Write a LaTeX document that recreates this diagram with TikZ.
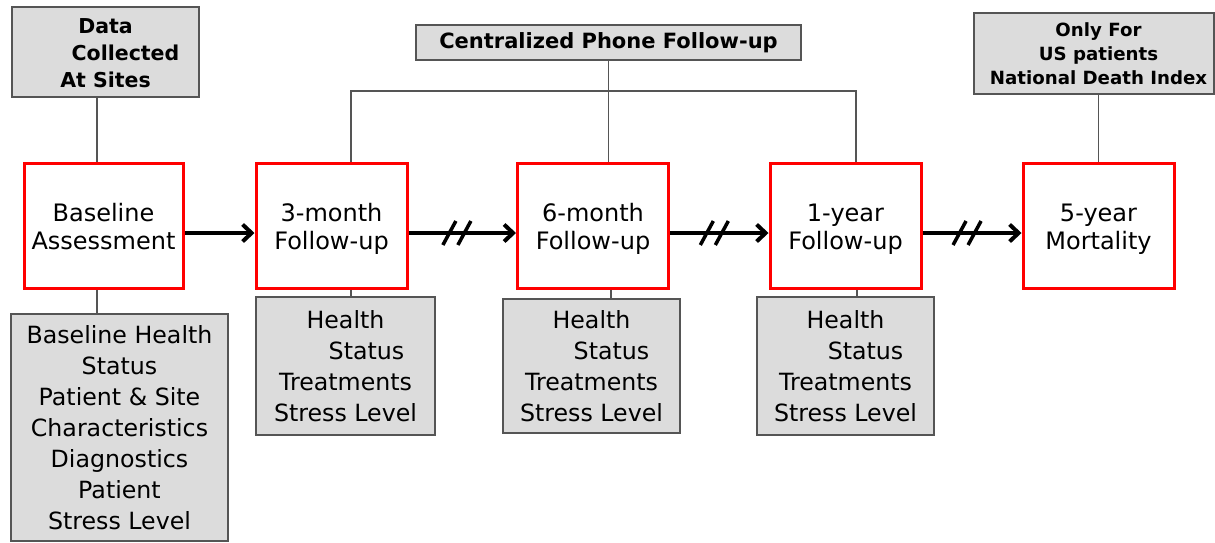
\documentclass[tikz,border=0pt]{standalone}
\usepackage{fontspec}
\setmainfont{DejaVu Sans}
\usetikzlibrary{arrows.meta,calc}
\definecolor{boxgray}{HTML}{DCDCDC}
\definecolor{edgegray}{HTML}{555555}
\definecolor{stagered}{HTML}{FF0000}
\newcommand{\topstrut}{\rule{0pt}{25.2pt}}
\newcommand{\botstrut}{\rule[-5.7pt]{0pt}{5.7pt}}
\begin{document}
\begin{tikzpicture}[x=1pt,y=-1pt,
  stagebox/.style={draw=stagered,line width=3pt,fill=white,inner sep=0pt,align=center,
    font=\fontsize{24}{28.5}\selectfont,minimum height=125pt},
  infobox/.style={draw=edgegray,line width=1.4pt,fill=boxgray,inner sep=0pt,align=center,
    font=\fontsize{23.7}{31}\selectfont},
  headbox/.style={draw=edgegray,line width=1.4pt,fill=boxgray,inner sep=0pt,align=center},
  headtext/.style={inner sep=0pt,align=center,font=\bfseries\fontsize{20.5}{27}\selectfont},
  link/.style={draw=edgegray,line width=1.2pt},
  flow/.style={line width=4pt,-{Straight Barb[length=9pt,width=17pt]}},
  slash/.style={line width=3.5pt}]
\useasboundingbox (0,0) rectangle (1215,542);

% stage boxes
\node[stagebox,minimum width=159pt] (base) at (103.5,225.5) {\topstrut Baseline\\Assessment\botstrut};
\node[stagebox,minimum width=151pt] (m3) at (331.5,225.5) {\topstrut 3-month\\Follow-up\botstrut};
\node[stagebox,minimum width=151pt] (m6) at (593,225.5) {\topstrut 6-month\\Follow-up\botstrut};
\node[stagebox,minimum width=151pt] (y1) at (845.5,225.5) {\topstrut 1-year\\Follow-up\botstrut};
\node[stagebox,minimum width=151pt] (y5) at (1098.5,225.5) {\topstrut 5-year\\Mortality\botstrut};

% top boxes
\node[headbox,minimum width=187pt,minimum height=90pt] (dc) at (105.5,52) {};
\node[headtext] (dct) at (105.5,53) {Data\\\hspace*{40pt}Collected\\At Sites};
\node[headbox,minimum width=385pt,minimum height=35pt,font=\bfseries\fontsize{21}{24}\selectfont] (cp) at (608.5,42.5) {Centralized Phone Follow-up};
\node[headbox,minimum width=240pt,minimum height=81pt] (nd) at (1094,53.5) {};
\node[headtext,font=\bfseries\fontsize{18.2}{24}\selectfont] (ndt) at (1098.5,54) {Only For\\US patients\\National Death Index};

% bottom boxes
\node[infobox,minimum width=217pt,minimum height=227pt] (bd) at (119.5,427.5)
  {Baseline Health\\Status\\Patient \& Site\\Characteristics\\Diagnostics\\Patient\\Stress Level};
\node[infobox,minimum width=179pt,minimum height=138pt] (d3) at (345.5,366)
  {Health\\\hspace*{42pt}Status\\Treatments\\Stress Level};
\node[infobox,minimum width=177pt,minimum height=134pt] (d6) at (591.5,366)
  {Health\\\hspace*{40pt}Status\\Treatments\\Stress Level};
\node[infobox,minimum width=177pt,minimum height=138pt] (d1) at (845.5,366)
  {Health\\\hspace*{40pt}Status\\Treatments\\Stress Level};

% thin connectors
\draw[link] ([xshift=-6.5pt]base.north |- dc.south) -- ([xshift=-6.5pt]base.north);
\draw[link] ([xshift=-6.5pt]base.south) -- ([xshift=-6.5pt]base.south |- bd.north);
\draw[link] (y5.north |- nd.south) -- (y5.north);
\coordinate (bar) at (609,91);
\draw[link] (cp.south) -- (cp.south |- m6.north);
\draw[link] ([xshift=19.5pt]m3.north) |- (bar) -| ([xshift=10.5pt]y1.north);
\draw[link] ([xshift=19.5pt]m3.south) -- ([xshift=19.5pt]m3.south |- d3.north);
\draw[link] ([xshift=18pt]m6.south) -- ([xshift=18pt]m6.south |- d6.north);
\draw[link] ([xshift=11.5pt]y1.south) -- ([xshift=11.5pt]y1.south |- d1.north);

% flow arrows
\draw[flow] ([yshift=-7.5pt]base.east) -- ([yshift=-7.5pt]m3.west);
\draw[flow] ([yshift=-7.5pt]m3.east) -- coordinate[pos=0.45] (s1) ([yshift=-7.5pt]m6.west);
\draw[flow] ([yshift=-7.5pt]m6.east) -- coordinate[pos=0.45] (s2) ([yshift=-7.5pt]y1.west);
\draw[flow] ([yshift=-7.5pt]y1.east) -- coordinate[pos=0.45] (s3) ([yshift=-7.5pt]y5.west);
\foreach \s in {s1,s2,s3}{
  \draw[slash] ([shift={(-14pt,-12pt)}]\s) -- ([shift={(-1pt,12pt)}]\s);
  \draw[slash] ([shift={(1pt,-12pt)}]\s) -- ([shift={(14pt,12pt)}]\s);
}
\end{tikzpicture}
\end{document}
